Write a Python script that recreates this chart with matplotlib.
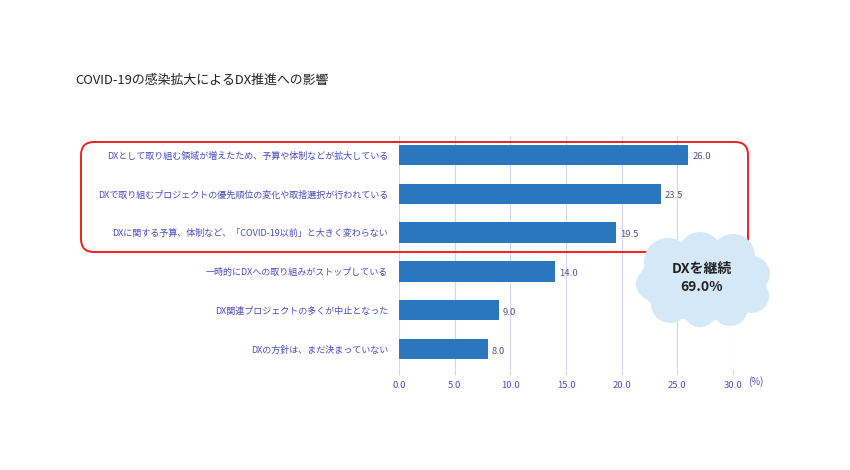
import matplotlib
matplotlib.use('Agg')
import matplotlib.pyplot as plt
from matplotlib.patches import FancyBboxPatch, Circle, Ellipse

plt.rcParams['font.family'] = ['Noto Sans CJK JP', 'DejaVu Sans']

# data
categories = [
    'DXとして取り組む領域が増えたため、予算や体制などが拡大している',
    'DXで取り組むプロジェクトの優先順位の変化や取捨選択が行われている',
    'DXに関する予算、体制など、「COVID-19以前」と大きく変わらない',
    '一時的にDXへの取り組みがストップしている',
    'DX関連プロジェクトの多くが中止となった',
    'DXの方針は、まだ決まっていない',
]
values = [26.0, 23.5, 19.5, 14.0, 9.0, 8.0]
x_ticks = [0, 5, 10, 15, 20, 25, 30]
title = 'COVID-19の感染拡大によるDX推進への影響'
cloud_text = 'DXを継続\n69.0%'

bar_color = '#2a77bd'
label_color = '#4b4bc4'
grid_color = '#d4d4f4'

fig = plt.figure(figsize=(8.5, 4.7), dpi=100)
fig.patch.set_facecolor('white')

ax = fig.add_axes([399 / 850, (470 - 368.5) / 470, 334 / 850, 233 / 470])
ypos = list(range(len(categories)))
ax.barh(ypos, values, height=0.52, color=bar_color, zorder=2)
ax.set_ylim(len(categories) - 0.5, -0.5)
ax.set_xlim(0, 30)
ax.set_yticks(ypos)
ax.set_yticklabels(categories, fontsize=6.5, color=label_color)
ax.set_xticks(x_ticks)
ax.set_xticklabels([f'{t:.1f}' for t in x_ticks], fontsize=6.8, color=label_color)
ax.tick_params(axis='y', length=0, pad=8)
ax.tick_params(axis='x', length=4, color=grid_color, pad=5)
ax.grid(axis='x', color=grid_color, linewidth=0.8, zorder=0)
for s in ax.spines.values():
    s.set_visible(False)
for y, v in zip(ypos, values):
    ax.text(v + 0.35, y + 0.05, f'{v:.1f}', fontsize=6.8, color='#555588', va='center', ha='left')
ax.text(1.045, -0.055, '(%)', transform=ax.transAxes, fontsize=7, color=label_color,
        ha='left', va='center')

fig.text(75 / 850, 1 - 80 / 470, title, fontsize=9.3, color='#222222', ha='left', va='center')

# overlay in pixel coordinates for the box and the cloud
ov = fig.add_axes([0, 0, 1, 1], zorder=5)
ov.set_xlim(0, 850)
ov.set_ylim(470, 0)
ov.axis('off')
ov.patch.set_alpha(0)

box = FancyBboxPatch((81, 142), 667, 110, boxstyle='round,pad=0,rounding_size=13',
                     fill=False, edgecolor='#f02020', linewidth=1.4)
ov.add_patch(box)

cloud_color = '#d5e8f8'
ov.add_patch(Ellipse((703, 281), 126, 80, color=cloud_color, lw=0))
for cx, cy, r in [(668, 262, 24), (700, 254, 22), (733, 256, 22), (752, 274, 18),
                  (752, 296, 17), (730, 308, 18), (700, 310, 17), (670, 304, 19),
                  (652, 284, 16)]:
    ov.add_patch(Circle((cx, cy), r, color=cloud_color, lw=0))
ov.text(702, 278, cloud_text, fontsize=10, fontweight='bold', color='#222222',
        ha='center', va='center', linespacing=1.3)

fig.savefig('out.png', dpi=100)
